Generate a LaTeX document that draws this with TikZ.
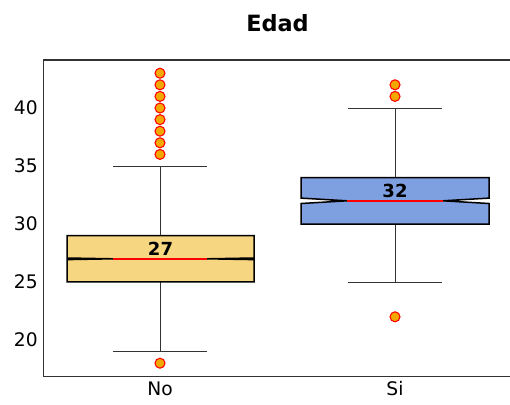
\documentclass[tikz,border=0pt]{standalone}
\usepackage{fontspec}
\setmainfont{DejaVu Sans}
\definecolor{nofill}{RGB}{246,214,128}
\definecolor{sifill}{RGB}{127,160,224}
\definecolor{outfill}{RGB}{242,168,0}
\definecolor{axcol}{RGB}{50,50,50}
\tikzset{
  boxshape/.style={draw=black,line width=1.5*0.75pt,line join=miter},
  medline/.style={draw=red,line width=1.5*0.75pt},
  whisk/.style={draw=black!80,line width=0.75pt},
  outlier/.style={draw=red,fill=outfill,line width=0.8pt},
  axline/.style={draw=axcol,line width=0.9pt},
  ticklab/.style={font=\fontsize{14}{16}\selectfont,inner sep=0pt},
  medlab/.style={font=\fontsize{13.5}{16}\selectfont\bfseries,inner sep=0pt,anchor=base},
}
\begin{document}
\begin{tikzpicture}[x=0.75pt,y=-0.75pt]
\useasboundingbox (0,0) rectangle (510,404);
% axes
\draw[axline] (510,60) -- (43.5,60) -- (43.5,376.3) -- (510,376.3);
% title
\node[font=\fontsize{16.8}{20}\selectfont\bfseries,inner sep=0pt] (title) at (277.5,23) {Edad};
% y tick labels
\node[ticklab,anchor=east] (t40) at (38,108) {40};
\node[ticklab,anchor=east] (t35) at (38,166) {35};
\node[ticklab,anchor=east] (t30) at (38,224) {30};
\node[ticklab,anchor=east] (t25) at (38,282) {25};
\node[ticklab,anchor=east] (t20) at (38,340) {20};
% x tick labels
\node[ticklab] (xno) at (160,389) {No};
\node[ticklab] (xsi) at (395,389) {Si};
% --- No group ---
\draw[whisk] (160,235.6) -- (160,166);
\draw[whisk] (113,166) -- (207,166);
\draw[whisk] (160,281.9) -- (160,351.6);
\draw[whisk] (113,351.6) -- (207,351.6);
\draw[boxshape,fill=nofill] (67,281.9) -- (254,281.9) -- (254,259.6) -- (207,258.8) -- (254,258.0) -- (254,235.6) -- (67,235.6) -- (67,258.0) -- (113,258.8) -- (67,259.6) -- cycle;
\draw[medline] (113,258.8) -- (207,258.8);
\node[medlab] (mno) at (160.5,255.8) {27};
\foreach \yy in {154.4,142.8,131.2,119.6,108,96.4,84.8,73.2,363.2}
  \draw[outlier] (160,\yy) circle[radius=5];
% --- Si group ---
\draw[whisk] (395,177.6) -- (395,108);
\draw[whisk] (348,108) -- (442,108);
\draw[whisk] (395,224) -- (395,282);
\draw[whisk] (348,282) -- (442,282);
\draw[boxshape,fill=sifill] (301,224) -- (489,224) -- (489,203.5) -- (443,200.8) -- (489,198.1) -- (489,177.6) -- (301,177.6) -- (301,198.1) -- (347,200.8) -- (301,203.5) -- cycle;
\draw[medline] (347,200.8) -- (443,200.8);
\node[medlab] (msi) at (395,197.8) {32};
\foreach \yy in {96.4,84.8,316.8}
  \draw[outlier] (395,\yy) circle[radius=5];
\end{tikzpicture}
\end{document}
